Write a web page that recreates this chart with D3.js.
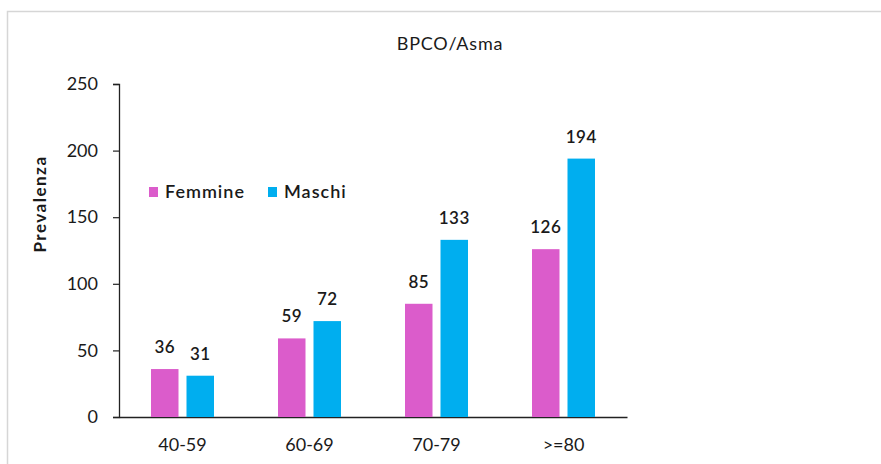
<!DOCTYPE html>
<html>
<head>
<meta charset="utf-8">
<script src="https://cdn.jsdelivr.net/npm/d3@7"></script>
<style>
  html, body { margin: 0; padding: 0; background: #fff; }
  svg { display: block; }
  text { font-family: Lato, "Open Sans", sans-serif; fill: #1a1a1a; }
</style>
</head>
<body>
<svg id="chart" width="881" height="464"></svg>
<script>
// Prevalence of BPCO/Asma by age group and sex
const categories = ["40-59", "60-69", "70-79", ">=80"];
const seriesNames = ["Femmine", "Maschi"];
const femmine = [36, 59, 85, 126];
const maschi = [31, 72, 133, 194];
const yTicks = [0, 50, 100, 150, 200, 250];
const colors = ["#DB5CCB", "#00AEEF"];

const svg = d3.select("#chart");

// frame around the chart area
svg.append("rect")
  .attr("x", 7.5).attr("y", 11.5)
  .attr("width", 900).attr("height", 500)
  .attr("fill", "#fff")
  .attr("stroke", "#d6d6d6").attr("stroke-width", 1.5);

const plotLeft = 119, plotRight = 627, plotTop = 84, plotBottom = 417;

const x = d3.scaleBand().domain(categories).range([plotLeft, plotRight]);
const y = d3.scaleLinear().domain([0, 250]).range([plotBottom, plotTop]);

const barW = 27.5, gap = 8;
const data = [femmine, maschi];

// y axis
const yAxis = svg.append("g")
  .attr("transform", `translate(${plotLeft},0)`)
  .call(d3.axisLeft(y).tickValues(yTicks).tickSize(6).tickPadding(15));
yAxis.select(".domain").attr("stroke", "#222").attr("stroke-width", 1.3);
yAxis.selectAll(".tick line").attr("stroke", "#222").attr("stroke-width", 1.2);
yAxis.selectAll(".tick text")
  .attr("font-size", 18).attr("font-family", "Lato, sans-serif").attr("fill", "#1a1a1a");

// x axis
const xAxis = svg.append("g")
  .attr("transform", `translate(0,${plotBottom})`)
  .call(d3.axisBottom(x).tickSize(0).tickPadding(21));
xAxis.select(".domain").attr("stroke", "#222").attr("stroke-width", 1.3);
xAxis.selectAll(".tick text")
  .attr("font-size", 18).attr("font-family", "Lato, sans-serif").attr("fill", "#1a1a1a");

// bars and value labels
data.forEach((vals, s) => {
  const offset = s === 0 ? -(gap / 2 + barW) : gap / 2;
  svg.append("g").selectAll("rect")
    .data(vals)
    .join("rect")
    .attr("x", (d, i) => x(categories[i]) + x.bandwidth() / 2 + offset)
    .attr("y", d => y(d))
    .attr("width", barW)
    .attr("height", d => y(0) - y(d))
    .attr("fill", colors[s]);
  svg.append("g").selectAll("text")
    .data(vals)
    .join("text")
    .attr("x", (d, i) => x(categories[i]) + x.bandwidth() / 2 + offset + barW / 2)
    .attr("y", d => y(d) - 16)
    .attr("text-anchor", "middle")
    .attr("font-size", 17)
    .attr("font-weight", 600)
    .attr("letter-spacing", 0.5)
    .text(d => d);
});

// title
svg.append("text")
  .attr("x", 450).attr("y", 50)
  .attr("text-anchor", "middle")
  .attr("font-size", 18)
  .attr("letter-spacing", 0.8)
  .text("BPCO/Asma");

// y axis title
svg.append("text")
  .attr("transform", "translate(46,204) rotate(-90)")
  .attr("text-anchor", "middle")
  .attr("font-size", 17)
  .attr("font-weight", 700)
  .attr("letter-spacing", 1.5)
  .text("Prevalenza");

// legend
const legendX = [149, 268];
seriesNames.forEach((name, s) => {
  svg.append("rect")
    .attr("x", legendX[s]).attr("y", 187)
    .attr("width", 9).attr("height", 10)
    .attr("fill", colors[s]);
  svg.append("text")
    .attr("x", legendX[s] + 16).attr("y", 198)
    .attr("font-size", 18)
    .attr("font-weight", 600)
    .attr("letter-spacing", 1)
    .text(name);
});
</script>
</body>
</html>
